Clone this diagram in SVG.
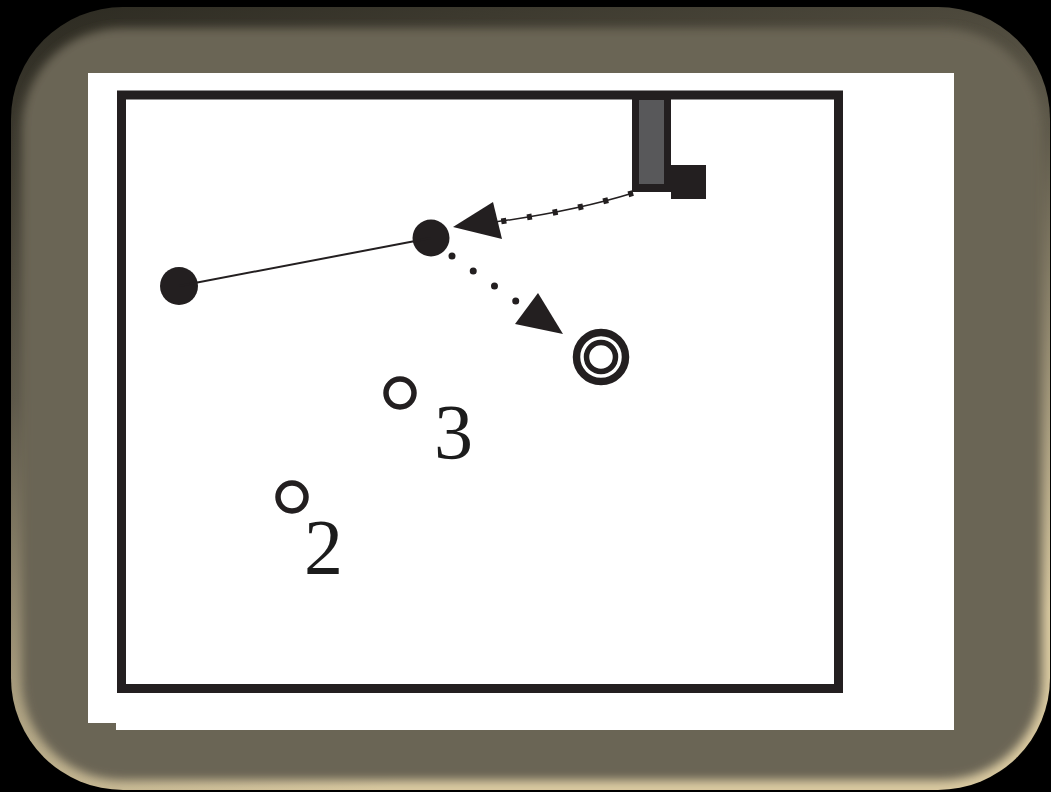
<svg xmlns="http://www.w3.org/2000/svg" width="1051" height="792" viewBox="0 0 1051 792">
  <defs>
    <linearGradient id="edge" x1="0" y1="0" x2="0.35" y2="1">
      <stop offset="0" stop-color="#2c2a21"/>
      <stop offset="0.45" stop-color="#5e594a"/>
      <stop offset="1" stop-color="#d9c9a0"/>
    </linearGradient>
    <filter id="soft" x="-5%" y="-5%" width="110%" height="110%">
      <feGaussianBlur stdDeviation="5"/>
    </filter>
    <style>
      .frame{fill:none;stroke:#231f20;stroke-width:9}
      .solid{fill:#231f20}
      .ring{fill:none;stroke:#231f20}
      .num{font-family:"Liberation Serif","Times New Roman",serif;font-size:78px;fill:#1c1c1c}
      .dots{fill:none;stroke:#231f20}
    </style>
  </defs>
  <rect x="0" y="0" width="1051" height="792" fill="#000"/>
  <g id="panel">
    <rect x="11" y="7" width="1039" height="783" rx="112" ry="112" fill="url(#edge)"/>
    <rect x="22" y="28" width="1020" height="752" rx="100" ry="100" fill="#6b6554" filter="url(#soft)"/>
    <path d="M88 73 H954 V730 H116 V723 H88 Z" fill="#ffffff"/>
  </g>
  <g id="room">
    <rect class="frame" x="121.5" y="95" width="717" height="593.5"/>
  </g>
  <g id="door">
    <rect class="solid" x="632" y="99" width="39" height="93"/>
    <rect x="639" y="100" width="25" height="84" fill="#58585a"/>
    <rect class="solid" x="671" y="165" width="35" height="34"/>
  </g>
  <g id="nodeA"><circle class="solid" cx="431" cy="238" r="18.5"/></g>
  <g id="nodeB"><circle class="solid" cx="179" cy="286" r="19"/></g>
  <g id="target">
    <circle class="ring" cx="601" cy="357" r="24.5" stroke-width="7.5"/>
    <circle class="ring" cx="601" cy="357" r="14.5" stroke-width="5.5"/>
  </g>
  <g id="point3">
    <circle class="ring" cx="400" cy="393" r="14" stroke-width="5.5"/>
    <text class="num" x="434" y="458">3</text>
  </g>
  <g id="point2">
    <circle class="ring" cx="292" cy="497" r="14" stroke-width="5.5"/>
    <text class="num" x="304" y="573">2</text>
  </g>
  <g id="connectors">
    <line x1="179" y1="286" x2="431" y2="238" stroke="#231f20" stroke-width="2"/>
    <path d="M633 193 Q575 211 495 222" fill="none" stroke="#231f20" stroke-width="1.5"/>
    <path class="dots" d="M633 193 Q575 211 497 222" stroke-width="6" stroke-dasharray="5 21"/>
    <polygon class="solid" points="453,227 493,202 502,239"/>
    <path class="dots" d="M452 256 L520 304" stroke-width="7" stroke-linecap="round" stroke-dasharray="0 26"/>
    <polygon class="solid" points="563,334 538,293 515,324"/>
  </g>
</svg>
